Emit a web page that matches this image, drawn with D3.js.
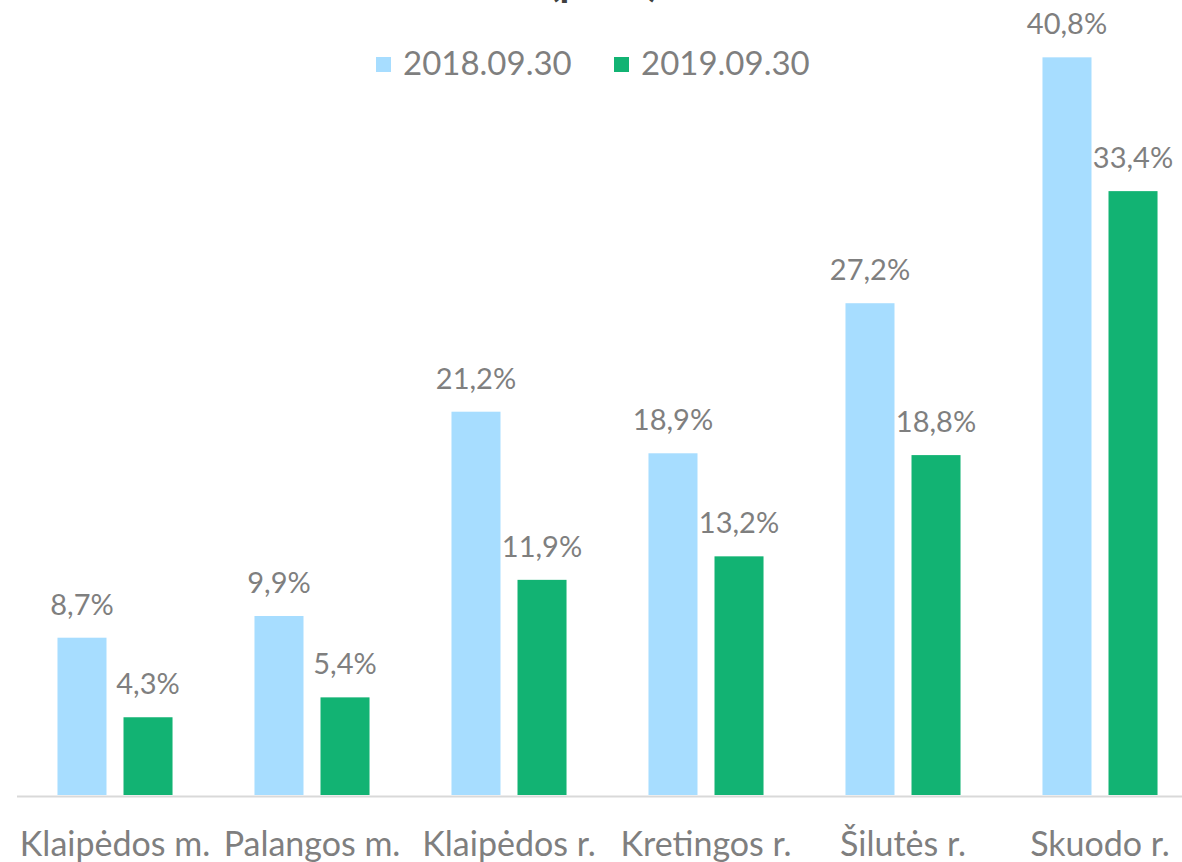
<!DOCTYPE html>
<html>
<head>
<meta charset="utf-8">
<script src="https://cdn.jsdelivr.net/npm/d3@7"></script>
<style>
  html, body { margin: 0; padding: 0; background: #fff; overflow: hidden; }
  svg { display: block; font-family: Lato, "Open Sans", sans-serif; }
</style>
</head>
<body>
<div id="chart"></div>
<script>
// duomenys
const categories = ["Klaipėdos m.", "Palangos m.", "Klaipėdos r.", "Kretingos r.", "Šilutės r.", "Skuodo r."];
const seriesNames = ["2018.09.30", "2019.09.30"];
const values2018 = [8.7, 9.9, 21.2, 18.9, 27.2, 40.8];
const values2019 = [4.3, 5.4, 11.9, 13.2, 18.8, 33.4];
const colors = ["#a7ddff", "#12b373"];
const titleText = "(proc.)";

const width = 1182, height = 862;
const baseY = 795;

const svg = d3.select("#chart").append("svg")
    .attr("width", width)
    .attr("height", height);

// skalės
const x0 = d3.scaleBand()
    .domain(categories)
    .range([16.5, 16.5 + 197 * categories.length])
    .paddingInner(0.416)
    .paddingOuter(0.208);

const x1 = d3.scaleBand()
    .domain(seriesNames)
    .range([0, x0.bandwidth()])
    .paddingInner(0.2576);

const y = d3.scaleLinear()
    .domain([0, 45])
    .range([baseY, baseY - 45 * 18.08]);

const rows = categories.map((c, i) => ({
    cat: c,
    vals: [
        { s: seriesNames[0], v: values2018[i], c: colors[0] },
        { s: seriesNames[1], v: values2019[i], c: colors[1] }
    ]
}));

// stulpeliai
const groups = svg.append("g")
    .selectAll("g")
    .data(rows)
    .enter().append("g")
    .attr("transform", d => `translate(${x0(d.cat)},0)`);

groups.selectAll("rect")
    .data(d => d.vals)
    .enter().append("rect")
    .attr("x", d => x1(d.s))
    .attr("y", d => y(d.v))
    .attr("width", x1.bandwidth())
    .attr("height", d => y(0) - y(d.v))
    .attr("fill", d => d.c);

groups.selectAll("text")
    .data(d => d.vals)
    .enter().append("text")
    .attr("x", d => x1(d.s) + x1.bandwidth() / 2)
    .attr("y", d => y(d.v) - 23)
    .attr("text-anchor", "middle")
    .attr("fill", "#7f7f7f")
    .style("font-size", "29px")
    .text(d => d3.format(".1f")(d.v).replace(".", ",") + "%");

// x ašis
const xAxis = svg.append("g")
    .attr("transform", `translate(0,${baseY + 1})`)
    .call(d3.axisBottom(x0).tickSize(0).tickPadding(0));

xAxis.select(".domain")
    .attr("stroke", "#d9d9d9")
    .attr("stroke-width", 2);

xAxis.selectAll("text")
    .attr("y", 60)
    .attr("dy", 0)
    .attr("fill", "#7f7f7f")
    .style("font-size", "34px")
    .style("font-family", "Lato, 'Open Sans', sans-serif");

// pavadinimas (nukirptas viršuje)
svg.append("text")
    .attr("x", 604)
    .attr("y", -4)
    .attr("text-anchor", "middle")
    .attr("fill", "#404040")
    .style("font-size", "40px")
    .style("font-weight", "bold")
    .text(titleText);

// legenda
const legendX = [376, 614];
const legend = svg.append("g")
    .selectAll("g")
    .data(seriesNames)
    .enter().append("g")
    .attr("transform", (d, i) => `translate(${legendX[i]},57)`);

legend.append("rect")
    .attr("width", 15)
    .attr("height", 15)
    .attr("fill", (d, i) => colors[i]);

legend.append("text")
    .attr("x", 27)
    .attr("y", 18)
    .attr("fill", "#7f7f7f")
    .style("font-size", "33px")
    .text(d => d);
</script>
</body>
</html>
